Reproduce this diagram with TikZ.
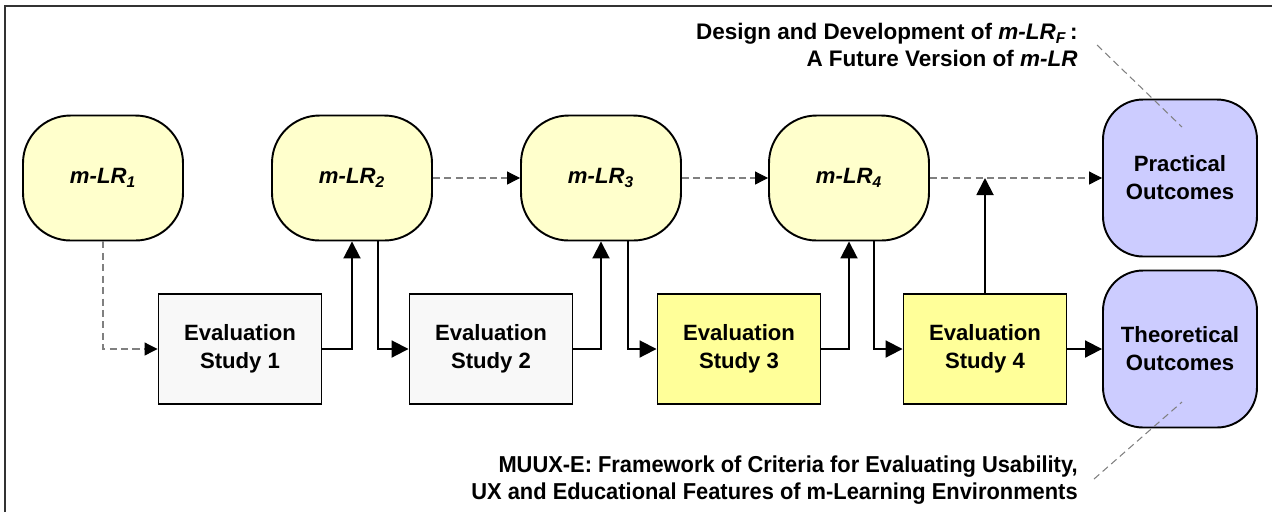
\documentclass[tikz,border=0pt]{standalone}
\usepackage{fontspec}
\setmainfont{Liberation Sans}
\newfontfamily\narrowfont{Liberation Sans}[FakeStretch=0.95]
\usetikzlibrary{arrows.meta,calc}

\definecolor{lrfill}{HTML}{FFFFCC}
\definecolor{studyfill}{HTML}{F8F8F8}
\definecolor{studyhot}{HTML}{FFFF99}
\definecolor{outfill}{HTML}{CCCCFF}
\definecolor{framegray}{HTML}{333333}

\tikzset{
  lrnode/.style={draw, line width=1.1pt, fill=lrfill, rounded corners=0.95cm,
    minimum width=3.2cm, minimum height=2.5cm,
    font=\fontsize{12.6}{15.9}\selectfont\bfseries\itshape},
  studybox/.style={draw, line width=1.1pt, fill=studyfill, align=center,
    minimum width=3.26cm, minimum height=2.2cm,
    font=\fontsize{12.6}{15.9}\selectfont\bfseries},
  outnode/.style={draw, line width=1.1pt, fill=outfill, rounded corners=0.8cm,
    minimum width=3.08cm, minimum height=3.14cm, align=center,
    font=\fontsize{12.6}{15.9}\selectfont\bfseries},
  flow/.style={-{Triangle[length=3.4mm,width=3.4mm]}, line width=1.1pt},
  link/.style={-{Triangle[length=2.6mm,width=2.6mm,color=black]}, gray,
    line width=0.6pt, dash pattern=on 4pt off 2.5pt},
  noteline/.style={gray, line width=0.6pt, dash pattern=on 4pt off 2.5pt},
  note/.style={align=right, anchor=east, inner sep=0pt}
}

\begin{document}
\begin{tikzpicture}[x=0.02cm, y=-0.02cm]

\useasboundingbox (0,0) rectangle (1272,512);
\draw[framegray, line width=1.1pt] (5,512) -- (5,6) -- (1272,6);

% versions of the learning resource
\node[lrnode] (lr1) at (103,178) {m-LR\textsubscript{1}};
\node[lrnode] (lr2) at (352,178) {m-LR\textsubscript{2}};
\node[lrnode] (lr3) at (601,178) {m-LR\textsubscript{3}};
\node[lrnode] (lr4) at (849,178) {m-LR\textsubscript{4}};

% evaluation studies
\node[studybox] (ev1) at (240,349) {Evaluation\\Study 1};
\node[studybox] (ev2) at (491,349) {Evaluation\\Study 2};
\node[studybox, fill=studyhot] (ev3) at (739,349) {Evaluation\\Study 3};
\node[studybox, fill=studyhot] (ev4) at (985,349) {Evaluation\\Study 4};

% outcomes
\node[outnode] (pr) at (1180,178) {Practical\\Outcomes};
\node[outnode] (th) at (1180,349) {Theoretical\\Outcomes};

\draw[link] (lr1.south) |- (ev1.west);
\draw[link] (lr2.east) -- (lr3.west);
\draw[link] (lr3.east) -- (lr4.west);
\draw[link] (lr4.east) -- (pr.west);

\draw[flow] (ev1.east) -| (lr2.south);
\draw[flow] ($(lr2.south)+(26,0)$) |- (ev2.west);
\draw[flow] (ev2.east) -| (lr3.south);
\draw[flow] ($(lr3.south)+(27,0)$) |- (ev3.west);
\draw[flow] (ev3.east) -| (lr4.south);
\draw[flow] ($(lr4.south)+(25,0)$) |- (ev4.west);
\draw[flow] (ev4.north) -- (ev4.north |- pr.west);
\draw[flow] (ev4.east) -- (th.west);

% notes
\node[note, font=\fontsize{12.8}{15}\selectfont\bfseries] (futurenote) at (1078,45)
  {Design and Development of \textit{m-LR\textsubscript{F}}\,:\\A Future Version of \textit{m-LR}};
\node[note, font=\narrowfont\fontsize{13.1}{15.6}\selectfont\bfseries] (muuxnote) at (1078,480)
  {MUUX-E: Framework of Criteria for Evaluating Usability,\\UX and Educational Features of m-Learning Environments};

\coordinate (fn) at (1097,45);
\coordinate (mn) at (1094,479);
\draw[noteline] (fn) -- ($(pr.center)+(2,-51)$);
\draw[noteline] (mn) -- ($(th.center)+(2,53)$);

\end{tikzpicture}
\end{document}
